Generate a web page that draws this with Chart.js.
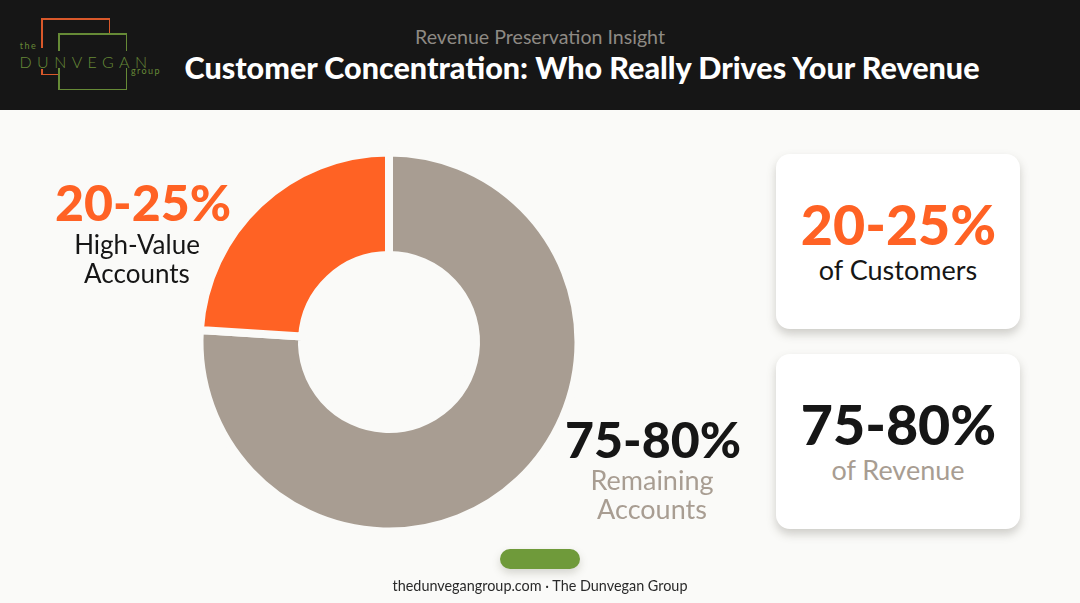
<!DOCTYPE html>
<html><head><meta charset="utf-8">
<script src="https://cdn.jsdelivr.net/npm/chart.js@4"></script>
<style>
html,body{margin:0;padding:0}
body{width:1080px;height:603px;background:#FAFAF8;position:relative;overflow:hidden;font-family:Lato,sans-serif}
.t{position:absolute;white-space:nowrap;text-align:center;transform:translateX(-50%)}
.l{position:absolute}
#hdr{position:absolute;left:0;top:0;width:1080px;height:110px;background:#161616}
.card{position:absolute;left:776px;width:244px;height:175px;background:#fff;border-radius:14px;box-shadow:0 5px 10px rgba(90,85,75,.28)}
#pill{position:absolute;left:500px;top:549px;width:80px;height:20px;border-radius:10px;background:#6F9A3A;box-shadow:0 4px 8px rgba(80,80,60,.22)}
#wrap{position:absolute;left:189px;top:142px;width:400px;height:400px}
</style></head><body>
<div id="hdr"></div>
<div id="logo"></div>
<div class="card" style="top:154px"></div>
<div class="card" style="top:354px"></div>
<div id="wrap"><canvas id="c" width="400" height="400"></canvas></div>
<div id="pill"></div>
<div id="texts"></div>
<script>
const categories = ["Remaining Accounts", "High-Value Accounts"];
const shares = [76, 24];
const colors = ["#A89D92", "#FF6224"];
const subtitle = "Revenue Preservation Insight";
const title = "Customer Concentration: Who Really Drives Your Revenue";
const footer = "thedunvegangroup.com · The Dunvegan Group";
const labels = [
  ["20-25%", 143, 172, 50, 900, "#FF6224", 0],
  ["High-Value", 137, 229, 26, 400, "#161616", 0],
  ["Accounts", 137, 258, 26, 400, "#161616", 0],
  ["75-80%", 653, 409, 50, 900, "#161616", 0],
  ["Remaining", 652, 464, 27, 400, "#A89D92", 0],
  ["Accounts", 652, 493, 27, 400, "#A89D92", 0],
  ["20-25%", 898.5, 191, 55.5, 900, "#FF6224", 0],
  ["of Customers", 898, 254, 27, 400, "#161616", 0],
  ["75-80%", 898.5, 391, 55.5, 900, "#161616", 0],
  ["of Revenue", 898, 454, 27, 400, "#A89D92", 0],
  [subtitle, 540, 25, 19.6, 400, "#8E8A84", 0],
  [title, 582, 49, 30.5, 900, "#FFFFFF", 0],
  [footer, 540, 577, 14.4, 400, "#2A2A2A", 0],
  ["the", 28.5, 41, 9, 400, "#668A36", 1.5],
  ["DUNVEGAN", 86, 52, 16, 300, "#668A36", 5.4],
  ["group", 146, 66, 9, 400, "#668A36", 1.4]
];
const logoLines = [
  [41,18,68,1.5,"#D9582A"],[41,18,1.5,30,"#D9582A"],[41,69,1.5,6,"#D9582A"],[41,73.5,18,1.5,"#D9582A"],[108.5,18,1.5,15,"#D9582A"],
  [58,33,69,1.5,"#668A36"],[58,33,1.5,18,"#668A36"],[58,68,1.5,22,"#668A36"],[58,88.5,69,1.5,"#668A36"],[125.5,33,1.5,18,"#668A36"],[125.5,68,1.5,22,"#668A36"]
];
const logo = document.getElementById("logo");
for (const [x,y,w,h,col] of logoLines) {
  const d = document.createElement("div"); d.className = "l";
  d.style.cssText = `left:${x}px;top:${y}px;width:${w}px;height:${h}px;background:${col}`;
  logo.appendChild(d);
}
const host = document.getElementById("texts");
for (const [s,x,y,size,weight,col,ls] of labels) {
  const d = document.createElement("div"); d.className = "t"; d.textContent = s;
  d.style.cssText = `left:${x}px;top:${y}px;font-size:${size}px;font-weight:${weight};color:${col};letter-spacing:${ls}px;line-height:1.2`;
  host.appendChild(d);
}
new Chart(document.getElementById("c"), {
  type: "doughnut",
  data: { labels: categories, datasets: [{ data: shares, backgroundColor: colors, borderColor: "#FAFAF8", borderWidth: 8 }] },
  options: {
    responsive: false, animation: false, radius: 189.5, cutout: 90,
    plugins: { legend: { display: false }, tooltip: { enabled: false } }
  }
});
</script>
</body></html>
